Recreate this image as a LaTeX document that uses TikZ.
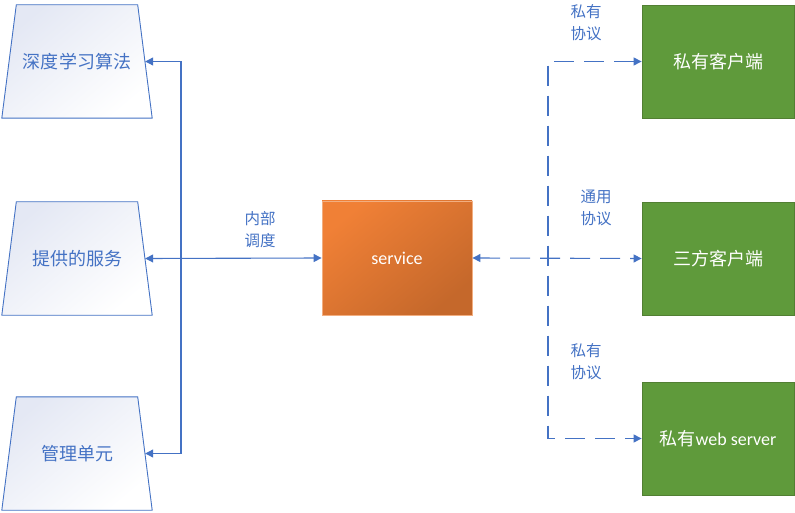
\documentclass[tikz,border=0pt]{standalone}
\usepackage{fontspec}
\setmainfont{Carlito}
\newfontfamily\cjk{Noto Sans CJK SC}
\usetikzlibrary{arrows.meta,backgrounds}

\definecolor{lineblue}{HTML}{4472C4}
\definecolor{trapfill}{HTML}{E4E8F4}
\definecolor{orangetop}{HTML}{F08036}
\definecolor{orangebot}{HTML}{C5682B}
\definecolor{orangeline}{HTML}{F2AE80}
\definecolor{greenfill}{HTML}{5F9A3B}
\definecolor{greenline}{HTML}{527F33}

\tikzset{
  module/.style={rectangle, minimum width=121pt, minimum height=113pt,
    text=lineblue, font=\cjk\fontsize{18}{20}\selectfont, inner sep=0pt},
  moduleshape/.style={draw=lineblue, line width=0.9pt,
    left color=trapfill, right color=white, shading angle=40},
  core/.style={rectangle, draw=orangeline, line width=0.8pt,
    minimum width=150pt, minimum height=114pt,
    left color=orangetop, right color=orangebot, shading angle=40,
    text=white, font=\fontsize{18}{20}\selectfont},
  client/.style={rectangle, draw=greenline, line width=0.8pt, fill=greenfill,
    minimum width=152pt, minimum height=113pt,
    text=white, font=\fontsize{18}{20}\selectfont},
  link/.style={draw=lineblue, line width=1.1pt},
  dashlink/.style={link, dash pattern=on 20pt off 10pt},
  tip/.tip={Triangle[length=8pt,width=8pt]},
  note/.style={text=lineblue, align=center, font=\cjk\fontsize{15.5}{22}\selectfont, inner sep=0pt}
}

\begin{document}
\begin{tikzpicture}[x=1pt,y=1pt]
  \useasboundingbox (0,0) rectangle (795,512);

  \node[module] (algo) at (77,450.5) {深度学习算法};
  \node[module] (offer) at (77,253.5) {提供的服务};
  \node[module] (manage) at (77,58.5) {管理单元};

  \begin{scope}[on background layer]
    \foreach \m in {algo,offer,manage}
      \path[moduleshape] ([xshift=-14.5pt]\m.south west) -- (\m.north west)
        -- (\m.north east) -- ([xshift=14.5pt]\m.south east) -- cycle;
  \end{scope}

  \node[core] (service) at (397,254) {service};

  \node[client] (private) at (718,450.5) {\cjk 私有客户端};
  \node[client] (third) at (718,253.5) {\cjk 三方客户端};
  \node[client] (web) at (718,73.5) {{\cjk 私有}web server};

  \coordinate (leftbus) at (181,254);
  \coordinate (rightbus) at (548,254);

  \draw[link, tip-tip] ([xshift=7.5pt]algo.east) -| (leftbus) |- ([xshift=7.5pt]manage.east);
  \draw[link, tip-tip] ([xshift=7.5pt]offer.east) -- (service.west);
  \draw[dashlink, tip-tip] (service.east) -- (third.west);
  \draw[dashlink, tip-tip] (private.west) -| (rightbus) |- (web.west);

  \node[note] (inner) at (260,282) {内部\\调度};
  \node[note] (proto1) at (586,489) {私有\\协议};
  \node[note] (proto2) at (596,304) {通用\\协议};
  \node[note] (proto3) at (586,150) {私有\\协议};
\end{tikzpicture}
\end{document}
